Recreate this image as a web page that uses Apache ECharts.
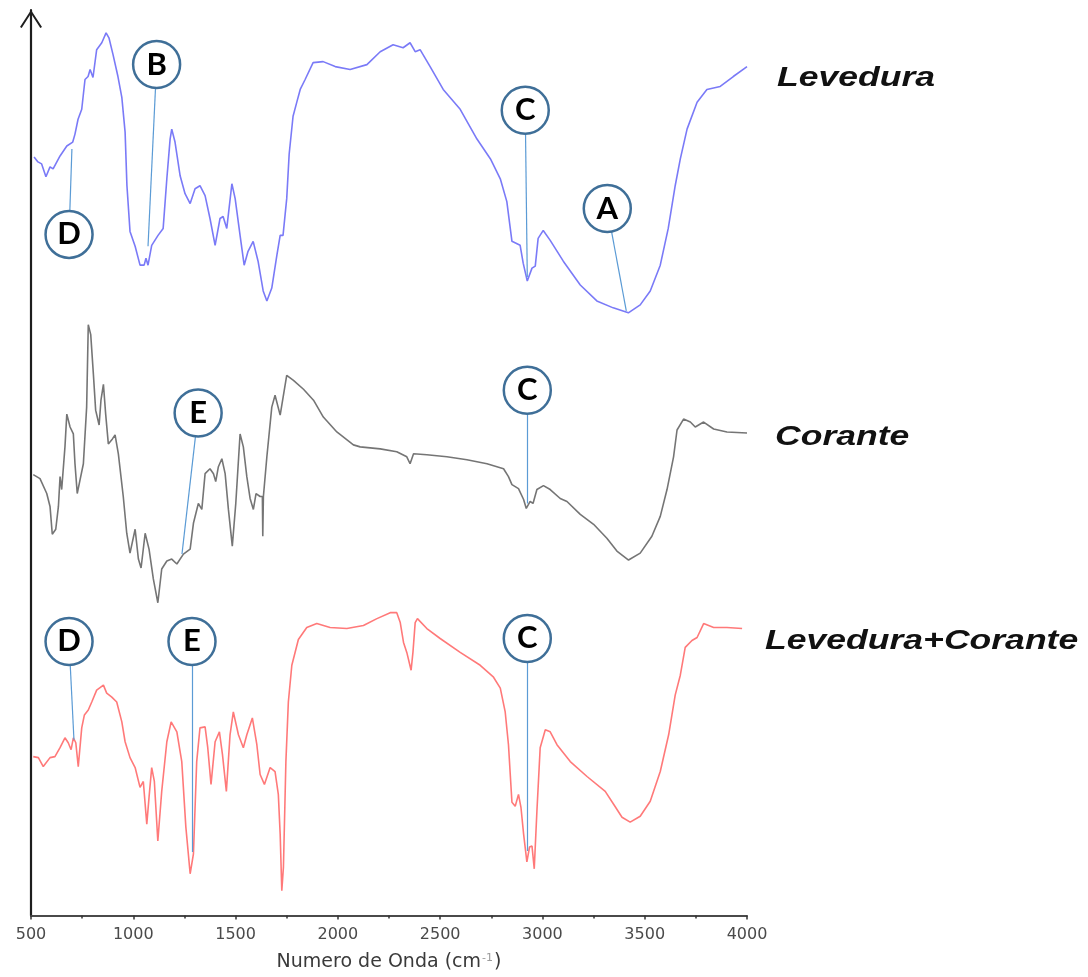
<!DOCTYPE html>
<html>
<head>
<meta charset="utf-8">
<script src="https://cdn.jsdelivr.net/npm/echarts@6/dist/echarts.min.js"></script>
<style>
  html, body { margin: 0; padding: 0; background: #fff; }
  #chart { width: 1088px; height: 977px; }
</style>
</head>
<body>
<div id="chart"></div>
<script>
// FTIR spectra, stacked with vertical offsets (transmittance, arbitrary units)
const xTicks = [500, 1000, 1500, 2000, 2500, 3000, 3500, 4000];

// Levedura
const levWn = [515, 534, 552, 573, 593, 608, 642, 675, 704, 715, 730, 748, 764, 779, 789, 803, 821, 846, 867, 881,
  901, 925, 944, 960, 969, 984, 1009, 1033, 1053, 1062, 1072, 1090, 1121, 1146, 1164, 1180, 1188, 1204, 1229, 1253,
  1278, 1302, 1326, 1351, 1375, 1400, 1424, 1439, 1457, 1482, 1498, 1522, 1542, 1561, 1586, 1610, 1635, 1653, 1677, 1702,
  1718, 1732, 1750, 1762, 1781, 1799, 1816, 1840, 1879, 1928, 1987, 2060, 2142, 2207, 2270, 2319, 2353, 2378, 2402, 2451,
  2515, 2598, 2680, 2746, 2794, 2826, 2851, 2891, 2906, 2926, 2949, 2965, 2979, 3004, 3038, 3102, 3185, 3266, 3346, 3420,
  3478, 3527, 3576, 3615, 3649, 3674, 3707, 3756, 3804, 3869, 3933, 4000];
const levT = [764, 759, 757, 744, 754, 752, 765, 775, 779, 787, 802, 812, 842, 845, 852, 844, 872, 879, 889, 884,
  867, 845, 824, 789, 735, 689, 674, 655, 655, 662, 655, 675, 685, 692, 742, 782, 792, 779, 745, 727,
  717, 732, 735, 725, 702, 675, 702, 704, 692, 737, 722, 685, 655, 669, 679, 659, 629, 619, 632, 665,
  685, 685, 722, 767, 805, 819, 832, 842, 859, 860, 855, 852, 857, 870, 877, 874, 879, 870, 872, 855,
  832, 812, 782, 762, 742, 719, 679, 675, 657, 639, 652, 654, 682, 690, 680, 659, 635, 619, 612, 607,
  615, 629, 655, 692, 735, 762, 792, 819, 832, 835, 845, 855];

// Corante
const corWn = [511, 544, 577, 593, 604, 621, 634, 642, 650, 666, 675, 691, 707, 715, 726, 740, 756, 772, 780, 792,
  805, 816, 833, 842, 854, 865, 878, 898, 911, 927, 951, 968, 984, 1009, 1025, 1038, 1058, 1077, 1098, 1120,
  1139, 1164, 1188, 1213, 1245, 1278, 1294, 1318, 1335, 1351, 1375, 1392, 1403, 1416, 1433, 1449, 1465, 1484, 1501, 1522,
  1538, 1555, 1571, 1587, 1600, 1620, 1631, 1633, 1636, 1653, 1677, 1693, 1718, 1750, 1783, 1832, 1881, 1929, 1995, 2076,
  2109, 2207, 2288, 2337, 2353, 2370, 2435, 2533, 2631, 2729, 2810, 2834, 2851, 2883, 2908, 2921, 2940, 2954, 2973, 3005,
  3038, 3087, 3120, 3185, 3250, 3315, 3364, 3421, 3478, 3535, 3576, 3609, 3641, 3658, 3690, 3723, 3747, 3788, 3837, 3902, 4000];
const corT = [444, 440, 425, 412, 384, 389, 412, 442, 429, 472, 505, 492, 485, 455, 425, 439, 455, 512, 595, 585,
  545, 509, 494, 519, 535, 505, 475, 480, 484, 465, 422, 385, 365, 389, 359, 350, 385, 369, 339, 315,
  349, 357, 359, 354, 364, 369, 395, 415, 409, 445, 450, 445, 437, 452, 460, 445, 409, 372, 415, 485,
  472, 442, 420, 409, 425, 422, 422, 382, 422, 462, 512, 524, 504, 544, 539, 530, 519, 502, 487, 474,
  472, 470, 467, 462, 455, 465, 464, 462, 459, 455, 450, 442, 434, 430, 419, 410, 417, 415, 429, 433,
  429, 420, 417, 404, 394, 380, 367, 358, 365, 382, 402, 429, 462, 489, 500, 497, 492, 497, 490, 487, 486];

// Levedura+Corante
const mixWn = [511, 536, 560, 593, 617, 642, 666, 682, 696, 707, 719, 731, 748, 761, 780, 797, 821, 854, 870, 895,
  919, 944, 960, 984, 1009, 1033, 1049, 1066, 1077, 1090, 1103, 1120, 1139, 1164, 1185, 1213, 1237, 1257, 1278, 1294,
  1310, 1326, 1351, 1364, 1380, 1400, 1421, 1436, 1455, 1473, 1489, 1514, 1538, 1555, 1582, 1604, 1620, 1641, 1669, 1693,
  1709, 1718, 1726, 1734, 1746, 1758, 1775, 1807, 1848, 1897, 1962, 2044, 2125, 2191, 2256, 2288, 2305, 2321, 2337, 2358,
  2367, 2378, 2389, 2435, 2500, 2598, 2696, 2761, 2794, 2818, 2834, 2851, 2867, 2883, 2895, 2908, 2924, 2937, 2949, 2960,
  2973, 2989, 3014, 3038, 3071, 3136, 3218, 3307, 3348, 3389, 3429, 3478, 3527, 3576, 3617, 3649, 3674, 3698, 3731, 3756,
  3788, 3837, 3902, 3976];
const mixT = [160, 159, 150, 159, 160, 169, 179, 174, 167, 179, 174, 150, 189, 202, 207, 215, 227, 232, 224, 220,
  215, 195, 175, 159, 149, 129, 135, 92, 119, 149, 135, 75, 125, 175, 195, 185, 155, 89, 42, 62,
  155, 189, 190, 169, 132, 175, 185, 162, 125, 182, 205, 182, 169, 182, 199, 172, 142, 132, 149, 145,
  122, 82, 25, 49, 155, 215, 252, 278, 290, 294, 290, 289, 292, 299, 305, 305, 295, 275, 265, 247,
  265, 295, 299, 289, 279, 265, 252, 240, 229, 205, 172, 114, 110, 122, 109, 82, 54, 69, 70, 47,
  105, 169, 187, 185, 172, 155, 140, 125, 112, 99, 94, 100, 115, 145, 182, 222, 242, 270, 277, 280,
  294, 290, 290, 289];

// Band annotations: letter, band wavenumber and height on the spectrum, label anchor
const bandLetters = ['B', 'D', 'C', 'A', 'E', 'C', 'D', 'E', 'C'];
const bandWn = [1072, 700, 2926, 3410, 1238, 2926, 710, 1287, 2926];
const bandT = [674, 772, 643, 609, 364, 415, 177, 64, 65];
const labelWn = [1114, 686, 2916, 3317, 1317, 2926, 686, 1287, 2926];
const labelT = [857, 686, 811, 712, 506, 529, 276, 276, 279];

const seriesNames = ['Levedura', 'Corante', 'Levedura+Corante'];

const zip = (xs, ys) => xs.map((x, i) => [x, ys[i]]);

const chart = echarts.init(document.getElementById('chart'), null, { renderer: 'canvas' });

const spectrumStyle = (color) => ({
  type: 'line',
  showSymbol: false,
  smooth: false,
  silent: true,
  lineStyle: { color: color, width: 1.6, opacity: 0.9 },
  z: 2
});

const option = {
  animation: false,
  backgroundColor: '#ffffff',
  grid: { left: 31, right: 341, top: 10, bottom: 55 },
  xAxis: {
    type: 'value',
    min: 500,
    max: 4000,
    interval: 500,
    name: '{a|Numero de Onda (cm}{s|-1}{a|)}',
    nameLocation: 'middle',
    nameGap: 37,
    nameTextStyle: {
      rich: {
        a: { fontFamily: 'DejaVu Sans', fontSize: 19, color: '#3a3a3a' },
        s: { fontFamily: 'DejaVu Sans', fontSize: 11, color: '#9a9a9a', verticalAlign: 'top', padding: [0, 1, 9, 1] }
      }
    },
    axisLine: { show: true, lineStyle: { color: '#4a4a4a', width: 1.8 } },
    axisTick: { show: true, inside: false, length: 4, lineStyle: { color: '#333', width: 1.5 } },
    minorTick: { show: true, splitNumber: 2, length: 3, lineStyle: { color: '#333', width: 1.5 } },
    splitLine: { show: false },
    axisLabel: {
      margin: 11,
      fontFamily: 'DejaVu Sans',
      fontSize: 16,
      color: '#4a4a4a',
      formatter: (v) => (xTicks.includes(v) ? String(v) : '')
    }
  },
  yAxis: {
    type: 'value',
    min: 0,
    max: 912,
    axisLine: {
      show: true,
      symbol: ['none', 'path://M0,17 L11,0 L22,17 L20.3,18 L11,3.4 L1.7,18 Z'],
      symbolSize: [22, 18],
      symbolOffset: [0, -9],
      lineStyle: { color: '#1e1e1e', width: 2.2 }
    },
    axisTick: { show: false },
    axisLabel: { show: false },
    splitLine: { show: false }
  },
  series: [
    Object.assign(spectrumStyle('#6c6cf6'), { name: seriesNames[0], data: zip(levWn, levT) }),
    Object.assign(spectrumStyle('#666666'), { name: seriesNames[1], data: zip(corWn, corT) }),
    Object.assign(spectrumStyle('#ff6a6a'), { name: seriesNames[2], data: zip(mixWn, mixT) }),
    {
      type: 'lines',
      coordinateSystem: 'cartesian2d',
      silent: true,
      z: 3,
      lineStyle: { color: '#5b9bd5', width: 1.2, opacity: 1, curveness: 0 },
      data: bandLetters.map((_, i) => ({ coords: [[labelWn[i], labelT[i]], [bandWn[i], bandT[i]]] }))
    },
    {
      type: 'scatter',
      silent: true,
      z: 4,
      symbol: 'circle',
      symbolSize: 47,
      itemStyle: { color: '#ffffff', borderColor: '#3f6f98', borderWidth: 2.5, opacity: 1 },
      label: {
        show: true,
        position: 'inside',
        fontFamily: 'Lato',
        fontWeight: 'bold',
        fontSize: 31,
        color: '#000000',
        formatter: (p) => bandLetters[p.dataIndex]
      },
      data: zip(labelWn, labelT)
    }
  ],
  graphic: [
    { type: 'text', x: 777, y: 78, scaleX: 1.27, silent: true,
      style: { text: seriesNames[0], font: 'italic bold 28px "Liberation Sans"', fill: '#111', verticalAlign: 'middle', align: 'left' } },
    { type: 'text', x: 775, y: 437, scaleX: 1.27, silent: true,
      style: { text: seriesNames[1], font: 'italic bold 28px "Liberation Sans"', fill: '#111', verticalAlign: 'middle', align: 'left' } },
    { type: 'text', x: 765, y: 641, scaleX: 1.27, silent: true,
      style: { text: seriesNames[2], font: 'italic bold 28px "Liberation Sans"', fill: '#111', verticalAlign: 'middle', align: 'left' } }
  ]
};

chart.setOption(option);
</script>
</body>
</html>
